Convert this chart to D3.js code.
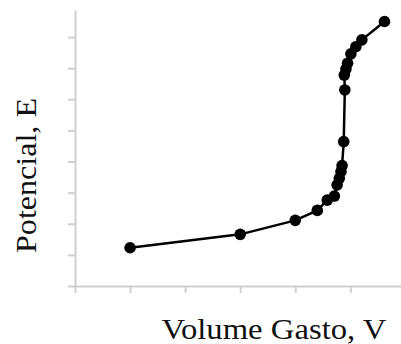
<!DOCTYPE html>
<html>
<head>
<meta charset="utf-8">
<script src="https://cdn.jsdelivr.net/npm/d3@7"></script>
<style>
  body { margin: 0; background: #fff; }
  svg { display: block; }
</style>
</head>
<body>
<div id="chart"></div>
<script>
// titration curve
const volume = [10, 30, 40, 44, 45.8, 47.1, 47.6, 48.0, 48.3, 48.5, 48.8, 49.0, 48.9, 49.2, 49.5, 50.1, 51.0, 52.1, 56.2];
const potential = [1.23, 1.66, 2.11, 2.43, 2.76, 2.89, 3.25, 3.46, 3.68, 3.87, 4.64, 6.30, 6.78, 6.97, 7.16, 7.46, 7.69, 7.91, 8.50];
const xTicks = [0, 10, 20, 30, 40, 50, 60];
const yTicks = [0, 1, 2, 3, 4, 5, 6, 7, 8];
const xLabel = "Volume Gasto, V";
const yLabel = "Potencial, E";

const width = 401, height = 344;
const margin = { left: 75, top: 10, right: 0, bottom: 58 };

const svg = d3.select("#chart").append("svg")
  .attr("width", width)
  .attr("height", height);

const x = d3.scaleLinear().domain([0, 59.2]).range([margin.left, width - margin.right]);
const y = d3.scaleLinear().domain([0, 8.87]).range([height - margin.bottom, margin.top]);

const axisColor = "#d0d0d0";

const xAxisG = svg.append("g")
  .attr("transform", "translate(0," + (height - margin.bottom) + ")")
  .call(d3.axisBottom(x).tickValues(xTicks).tickSize(7).tickFormat("").tickSizeOuter(0));
const yAxisG = svg.append("g")
  .attr("transform", "translate(" + margin.left + ",0)")
  .call(d3.axisLeft(y).tickValues(yTicks).tickSize(7).tickFormat("").tickSizeOuter(0));

[xAxisG, yAxisG].forEach(g => {
  g.select(".domain").attr("stroke", axisColor).attr("stroke-width", 2);
  g.selectAll(".tick line").attr("stroke", axisColor).attr("stroke-width", 2);
});

const pts = volume.map((v, i) => [v, potential[i]]);

svg.append("path")
  .datum(pts)
  .attr("fill", "none")
  .attr("stroke", "#000")
  .attr("stroke-width", 2.5)
  .attr("d", d3.line().x(d => x(d[0])).y(d => y(d[1])));

svg.selectAll("circle.pt")
  .data(pts)
  .enter().append("circle")
  .attr("class", "pt")
  .attr("cx", d => x(d[0]))
  .attr("cy", d => y(d[1]))
  .attr("r", 5.8)
  .attr("fill", "#000");

svg.append("text")
  .attr("x", 274)
  .attr("y", 339)
  .attr("text-anchor", "middle")
  .attr("textLength", 225)
  .attr("lengthAdjust", "spacingAndGlyphs")
  .style("font-family", "'Liberation Serif', 'DejaVu Serif', serif")
  .style("font-size", "29px")
  .attr("fill", "#111")
  .text(xLabel);

svg.append("text")
  .attr("transform", "translate(36," + 175.5 + ") rotate(-90)")
  .attr("text-anchor", "middle")
  .attr("textLength", 155)
  .attr("lengthAdjust", "spacingAndGlyphs")
  .style("font-family", "'Liberation Serif', 'DejaVu Serif', serif")
  .style("font-size", "29px")
  .attr("fill", "#111")
  .text(yLabel);
</script>
</body>
</html>
